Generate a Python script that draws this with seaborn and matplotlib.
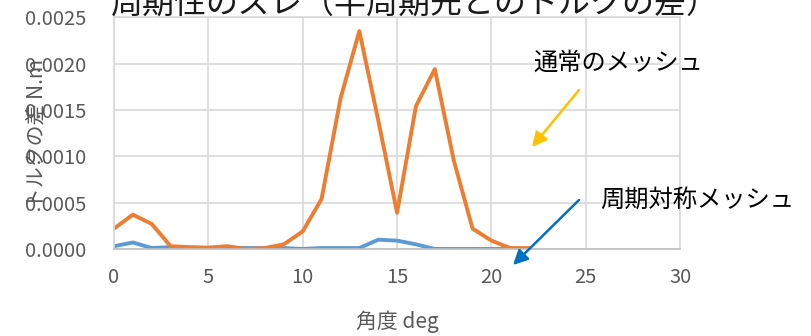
import matplotlib
matplotlib.use("Agg")
import matplotlib.pyplot as plt
import seaborn as sns
import pandas as pd
from matplotlib.ticker import FormatStrFormatter, MultipleLocator

# Angle (deg) and torque difference against the half-period-ahead position (N.m)
angle = list(range(0, 23))
normal_mesh = [0.00022, 0.00037, 0.00027, 0.00003, 0.00002, 0.000015, 0.00003, 0.0,
               0.00001, 0.00005, 0.00019, 0.00054, 0.00162, 0.00235, 0.00139, 0.00039,
               0.00154, 0.00194, 0.00096, 0.00022, 0.00009, 0.00001, 0.00001]
symmetric_mesh = [0.00003, 0.00007, 0.00001, 0.00002, 0.0, 0.0, 0.00001, 0.00001,
                  0.00001, 0.00001, 0.0, 0.00001, 0.00001, 0.00001, 0.0001, 0.00009,
                  0.00005, 0.0, 0.0, 0.0, 0.0, 0.0, 0.0]
series_names = ["通常のメッシュ", "周期対称メッシュ"]
x_ticks = [0, 5, 10, 15, 20, 25, 30]

df = pd.DataFrame({
    "angle": angle * 2,
    "diff": normal_mesh + symmetric_mesh,
    "mesh": [series_names[0]] * len(angle) + [series_names[1]] * len(angle),
})

sns.set_style("whitegrid")
plt.rcParams["font.family"] = ["Noto Sans CJK JP", "DejaVu Sans"]

fig = plt.figure(figsize=(8.11, 3.36), dpi=100)
ax = fig.add_axes([0.1406, 0.259, 0.698, 0.690])

sns.lineplot(data=df, x="angle", y="diff", hue="mesh",
             palette={series_names[0]: "#ED7D31", series_names[1]: "#5B9BD5"},
             hue_order=[series_names[1], series_names[0]],
             linewidth=2.8, legend=False, ax=ax)

ax.set_xlim(0, 30)
ax.set_ylim(0, 0.0025)
ax.set_xticks(x_ticks)
ax.yaxis.set_major_locator(MultipleLocator(0.0005))
ax.yaxis.set_major_formatter(FormatStrFormatter("%.4f"))

grid_color = "#D9D9D9"
ax.grid(True, color=grid_color, linewidth=1.2)
for side in ax.spines.values():
    side.set_color(grid_color)
    side.set_linewidth(1.2)
ax.spines["bottom"].set_color("#BFBFBF")

ax.tick_params(axis="both", colors="#595959", labelsize=14.5, length=0)
ax.tick_params(axis="y", pad=20)
ax.tick_params(axis="x", pad=13)

ax.set_xlabel("角度 deg", fontsize=15, color="#595959")
ax.set_ylabel("トルクの差 N.m", fontsize=15, color="#595959")
ax.xaxis.set_label_coords(0.5, -0.265)
ax.yaxis.set_label_coords(-0.118, 0.5)

fig.text(0.512, 0.988, "周期性のズレ（半周期先とのトルクの差）",
         ha="center", va="center", fontsize=23, color="#1A1A1A")

fig.text(533 / 811, 1 - 63 / 336, series_names[0], ha="left", va="center",
         fontsize=17.5, color="#000000")
fig.text(600 / 811, 1 - 200 / 336, series_names[1], ha="left", va="center",
         fontsize=17.5, color="#000000")

ax.annotate("", xy=(532 / 811, 1 - 147 / 336), xytext=(579 / 811, 1 - 90 / 336),
            xycoords="figure fraction", textcoords="figure fraction",
            arrowprops=dict(arrowstyle="-|>", color="#FFC000", lw=1.8,
                            mutation_scale=22, shrinkA=0, shrinkB=0),
            annotation_clip=False)
ax.annotate("", xy=(513 / 811, 1 - 265 / 336), xytext=(579 / 811, 1 - 200 / 336),
            xycoords="figure fraction", textcoords="figure fraction",
            arrowprops=dict(arrowstyle="-|>", color="#0070C0", lw=1.8,
                            mutation_scale=22, shrinkA=0, shrinkB=0),
            annotation_clip=False)

fig.savefig("out.png", dpi=100)
